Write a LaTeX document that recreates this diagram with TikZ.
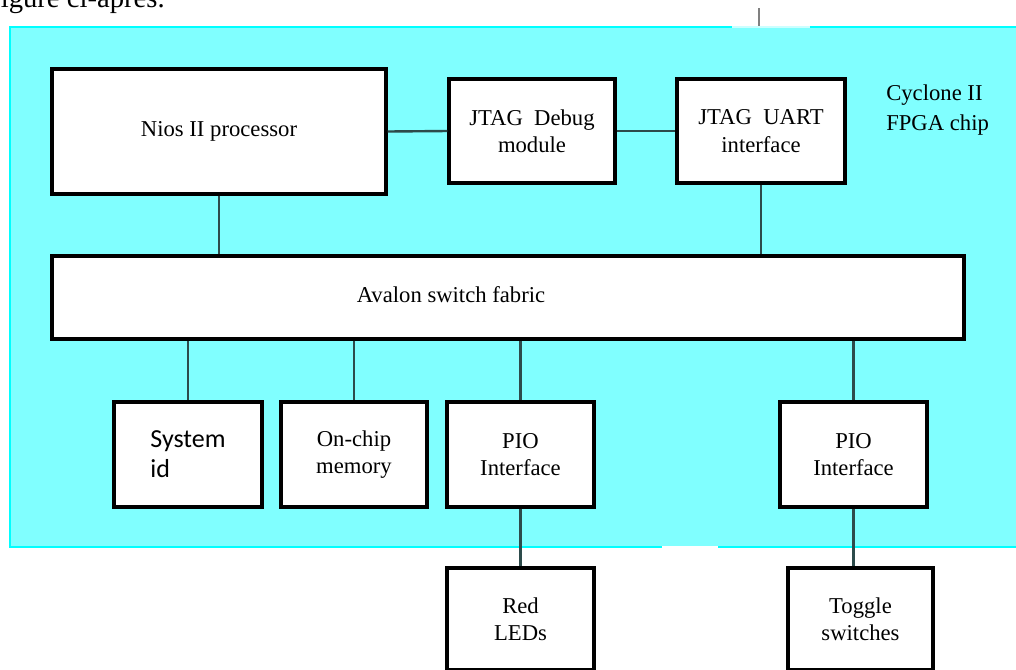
\documentclass[tikz,border=0pt]{standalone}
\usepackage{fontspec}
\setmainfont{Liberation Serif}
\newfontfamily\calib{Carlito}
\usepackage{tikz}
\usetikzlibrary{positioning}
\definecolor{chipfill}{RGB}{128,255,255}
\definecolor{chipline}{RGB}{0,255,255}
\definecolor{wirecol}{RGB}{45,75,75}

\tikzset{
	blk/.style={draw=black, line width=2.5pt, fill=white, inner sep=0pt, align=center,
		font=\fontsize{17}{20.5}\selectfont},
	wirel/.style={draw=wirecol, line width=1.8pt},
}

\begin{document}
\begin{tikzpicture}[x=0.75pt, y=-0.75pt]
		\useasboundingbox (0,0) rectangle (1016,669);
		\clip (0,0) rectangle (1016,669);
		\fill[white] (0,0) rectangle (1016,669);
		
		\node[anchor=base west, inner sep=0pt, font=\fontsize{21.5}{24}\selectfont] (caption) at (-9,7) {figure ci-après.};
		
		\coordinate (ext) at (759,8);
		\coordinate (chiptop) at (759,27);
		\draw[gray, line width=1.5pt] (ext) -- (chiptop);
		
		% FPGA area
		\filldraw[fill=chipfill, draw=chipline, line width=1.2pt] (10,27) rectangle (1030,547);
		\draw[white!80!chipline, line width=1.4pt] (732,27) -- (810,27);
		\draw[white, line width=1.4pt] (662,547) -- (718,547);
		\node[anchor=west, align=left, inner sep=0pt, font=\fontsize{17}{23}\selectfont] (cyclone) at (886,110) {Cyclone II\\FPGA chip};
		
		\node[blk, minimum width=250.5pt, minimum height=93.75pt] (nios) at (219,131.5) {Nios II processor};
		\node[blk, minimum width=124.5pt, minimum height=78pt] (debug) at (532,131) {JTAG\ \ Debug\\module};
		\node[blk, minimum width=126pt, minimum height=78pt] (uart) at (761,131) {JTAG\ \ UART\\interface};
		\node[blk, minimum width=684pt, minimum height=62.25pt] (avalon) at (508,297.5) {};
		\node[font=\fontsize{17}{20.5}\selectfont, inner sep=0pt] (fabric) at (451,295) {Avalon switch fabric};
		
		\node[blk, minimum width=111pt, minimum height=78.75pt, align=left, font=\calib\fontsize{19.5}{22.5}\selectfont] (sysid) at (188,454.5) {System\\id};
		\node[blk, minimum width=109.5pt, minimum height=78.75pt] (onchip) at (354,454.5) {On-chip\\memory};
		\node[blk, minimum width=110.25pt, minimum height=78.75pt] (pioa) at (520.5,454.5) {PIO\\Interface};
		\node[blk, minimum width=110.25pt, minimum height=78.75pt] (piob) at (853.5,454.5) {PIO\\Interface};
		
		\node[blk, minimum width=110.25pt, minimum height=76.5pt] (leds) at (520.5,619) {Red\\LEDs};
		\node[blk, minimum width=108.75pt, minimum height=76.5pt] (toggle) at (860.5,619) {Toggle\\switches};
		
		% wires
		\foreach \s/\t in {nios/debug, debug/uart} {
			\draw[wirel] (\s.east) -- (\t.west);
		}
		\foreach \s in {nios, uart} {
			\draw[wirel] (\s.south) -- (\s.south |- avalon.north);
		}
		\foreach \t in {sysid, onchip, pioa, piob} {
			\draw[wirel] (\t.north |- avalon.south) -- (\t.north);
		}
		\draw[wirel] (pioa.south) -- (leds.north);
		\draw[wirel] (piob.south) -- (piob.south |- toggle.north);
	\end{tikzpicture}
\end{document}
